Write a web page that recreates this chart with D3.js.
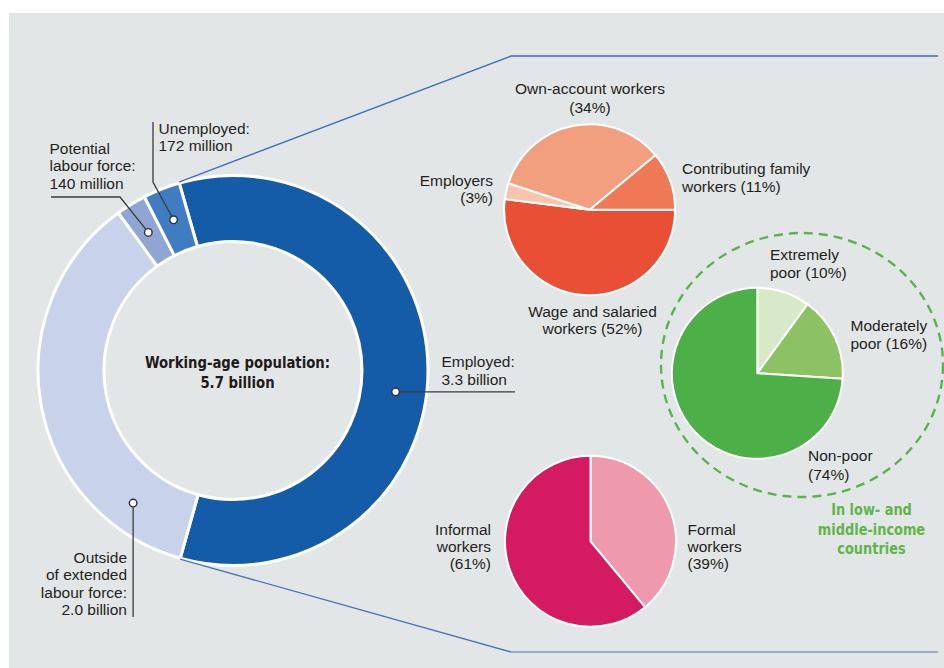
<!DOCTYPE html>
<html>
<head>
<meta charset="utf-8">
<script src="https://cdn.jsdelivr.net/npm/d3@7"></script>
<style>
  html, body { margin: 0; padding: 0; background: #ffffff; }
  svg { display: block; }
  text { font-family: "Liberation Sans", Arial, sans-serif; font-size: 15.5px; fill: #231f20; }
  .bold { font-family: "DejaVu Sans Condensed", "DejaVu Sans", sans-serif; font-weight: bold; }
</style>
</head>
<body>
<script>
// Working-age population (billions), clockwise from the top
const populationGroups = ["Employed", "Outside of extended labour force", "Potential labour force", "Unemployed"];
const populationValues = [3.3, 2.0, 0.14, 0.172];

// Employed by status in employment (%)
const statusGroups = ["Wage and salaried workers", "Employers", "Own-account workers", "Contributing family workers"];
const statusShares = [52, 3, 34, 11];

// Employed by poverty status, low- and middle-income countries (%)
const povertyGroups = ["Extremely poor", "Moderately poor", "Non-poor"];
const povertyShares = [10, 16, 74];

// Employed by formality (%)
const formalityGroups = ["Formal workers", "Informal workers"];
const formalityShares = [39, 61];

const W = 944, H = 668;
const deg = Math.PI / 180;

const svg = d3.select("body").append("svg")
  .attr("width", W).attr("height", H);

svg.append("rect")
  .attr("x", 9).attr("y", 13)
  .attr("width", W - 9).attr("height", H - 13)
  .attr("fill", "#e3e6e7");

// ---------- main donut ----------
const donut = { cx: 233, cy: 370.5, r0: 129, r1: 195 };
const donutColor = d3.scaleOrdinal()
  .domain(populationGroups)
  .range(["#155ca8", "#c8d3eb", "#8fa5d3", "#3f7cc1"]);

const donutStart = -16 * deg;
const popArcs = d3.pie().sort(null)
  .startAngle(donutStart).endAngle(donutStart + 2 * Math.PI)(populationValues)
  .map((a, i) => Object.assign(a, { name: populationGroups[i] }));

const donutArc = d3.arc().innerRadius(donut.r0).outerRadius(donut.r1);
const gDonut = svg.append("g").attr("transform", `translate(${donut.cx},${donut.cy})`);

const polar = (a, r) => [donut.cx + r * Math.sin(a), donut.cy - r * Math.cos(a)];

// zoom-out connectors from the employed segment to the breakdown panel
const emp = popArcs[0];
const topStart = polar(emp.startAngle, donut.r1 + 1);
const botStart = polar(emp.endAngle, donut.r1 + 1);
svg.append("path")
  .attr("d", d3.line()([topStart, [511, 56], [938, 56]]))
  .attr("fill", "none").attr("stroke", "#3c70b8").attr("stroke-width", 1.4);
svg.append("path")
  .attr("d", d3.line()([botStart, [511, 652]]))
  .attr("fill", "none").attr("stroke", "#4a74b6").attr("stroke-width", 1.3);
svg.append("path")
  .attr("d", d3.line()([[511, 652], [938, 652]]))
  .attr("fill", "none").attr("stroke", "#9aabcf").attr("stroke-width", 2);

gDonut.selectAll("path.seg")
  .data(popArcs)
  .join("path")
  .attr("class", "seg")
  .attr("d", donutArc)
  .attr("fill", d => donutColor(d.name))
  .attr("stroke", "#ffffff")
  .attr("stroke-width", 3);

// ---------- donut callouts ----------
// t: position along the segment (0 = start, 1 = end); r: radius of the marker
const callouts = [
  { i: 3, t: 0.5, r: 162, path: [[153, 182], [153, 122]],
    lines: ["Unemployed:", "172 million"], x: 158.5, y: 133.5, anchor: "start" },
  { i: 2, t: 0.5, r: 162, path: [[120, 197], [51, 197]],
    lines: ["Potential", "labour force:", "140 million"], x: 49.5, y: 153.5, anchor: "start" },
  { i: 1, t: 0.166, r: 166, path: "down",
    lines: ["Outside", "of extended", "labour force:", "2.0 billion"], x: 127, y: 562.5, anchor: "end" },
  { i: 0, t: 0.536, r: 164, path: "right",
    lines: ["Employed:", "3.3 billion"], x: 441.5, y: 367, anchor: "start" }
];

callouts.forEach(c => {
  const a = popArcs[c.i];
  const ang = a.startAngle + c.t * (a.endAngle - a.startAngle);
  const p = polar(ang, c.r);
  let pts;
  if (c.path === "down") pts = [p, [p[0], 617]];
  else if (c.path === "right") pts = [p, [515, p[1]]];
  else pts = [p].concat(c.path);
  svg.append("path")
    .attr("d", d3.line()(pts))
    .attr("fill", "none").attr("stroke", "#3a3a3a").attr("stroke-width", 1.3);
  svg.append("circle")
    .attr("cx", p[0]).attr("cy", p[1]).attr("r", 3.8)
    .attr("fill", "#ffffff").attr("stroke", "#2e2e2e").attr("stroke-width", 1.4);
  const t = svg.append("text").attr("text-anchor", c.anchor);
  c.lines.forEach((s, k) => {
    t.append("tspan").attr("x", c.x).attr("y", c.y + k * 17.5).text(s);
  });
});

// bold headings: one <text> per line, squeezed horizontally to a condensed width
function boldLines(lines, x, y0, lh, size, color, squeeze) {
  lines.forEach((s, k) => {
    const t = svg.append("text").attr("class", "bold")
      .attr("text-anchor", "middle")
      .attr("x", x).attr("y", y0 + k * lh)
      .style("font-size", size + "px").style("fill", color)
      .text(s);
    const w = t.node().getComputedTextLength();
    t.attr("textLength", w * squeeze).attr("lengthAdjust", "spacingAndGlyphs");
  });
}

// centre title
boldLines(["Working-age population:", "5.7 billion"], 237.5, 367.5, 20, 16, "#1e1a1a", 0.92);

// ---------- breakdown pies ----------
function drawPie(values, names, colors, cx, cy, r, startDeg) {
  const arcs = d3.pie().sort(null)
    .startAngle(startDeg * deg).endAngle(startDeg * deg + 2 * Math.PI)(values);
  const color = d3.scaleOrdinal().domain(names).range(colors);
  const arc = d3.arc().innerRadius(0).outerRadius(r);
  svg.append("g").attr("transform", `translate(${cx},${cy})`)
    .selectAll("path")
    .data(arcs)
    .join("path")
    .attr("d", arc)
    .attr("fill", (d, i) => color(names[i]))
    .attr("stroke", "#ffffff")
    .attr("stroke-width", 2)
    .attr("stroke-linejoin", "round");
}

function label(lines, x, y, anchor, lh) {
  const t = svg.append("text").attr("text-anchor", anchor);
  lines.forEach((s, k) => t.append("tspan").attr("x", x).attr("y", y + k * (lh || 17.5)).text(s));
  return t;
}

// status in employment
drawPie(statusShares, statusGroups, ["#e84f34", "#f9c4ae", "#f29f7f", "#ef7957"], 589.6, 209.7, 85.5, 90);
label(["Own-account workers", `(${statusShares[2]}%)`], 590, 94, "middle", 18.5);
label(["Contributing family", `workers (${statusShares[3]}%)`], 682, 174, "start");
label(["Employers", `(${statusShares[1]}%)`], 493, 186, "end", 16.5);
label(["Wage and salaried", `workers (${statusShares[0]}%)`], 592.5, 317, "middle", 16.5);

// poverty, low- and middle-income countries
svg.append("ellipse")
  .attr("cx", 802).attr("cy", 365).attr("rx", 141).attr("ry", 132)
  .attr("fill", "none").attr("stroke", "#5cb34e").attr("stroke-width", 2.4)
  .attr("stroke-dasharray", "9,6");
drawPie(povertyShares, povertyGroups, ["#d7e9c7", "#8cc264", "#4daf47"], 757.3, 373.3, 85.5, 0);
label(["Extremely", `poor (${povertyShares[0]}%)`], 770, 260, "start", 18);
label(["Moderately", `poor (${povertyShares[1]}%)`], 850.5, 331, "start", 18);
label(["Non-poor", `(${povertyShares[2]}%)`], 808, 461, "start", 18.5);

boldLines(["In low- and", "middle-income", "countries"], 871.5, 515, 19.5, 16.5, "#5fb548", 0.87);

// formality
drawPie(formalityShares, formalityGroups, ["#ee9aac", "#d41a60"], 590.5, 541.3, 85.5, 0);
label(["Informal", "workers", `(${formalityShares[1]}%)`], 491, 535, "end", 17);
label(["Formal", "workers", `(${formalityShares[0]}%)`], 687.5, 535, "start", 17);
</script>
</body>
</html>
